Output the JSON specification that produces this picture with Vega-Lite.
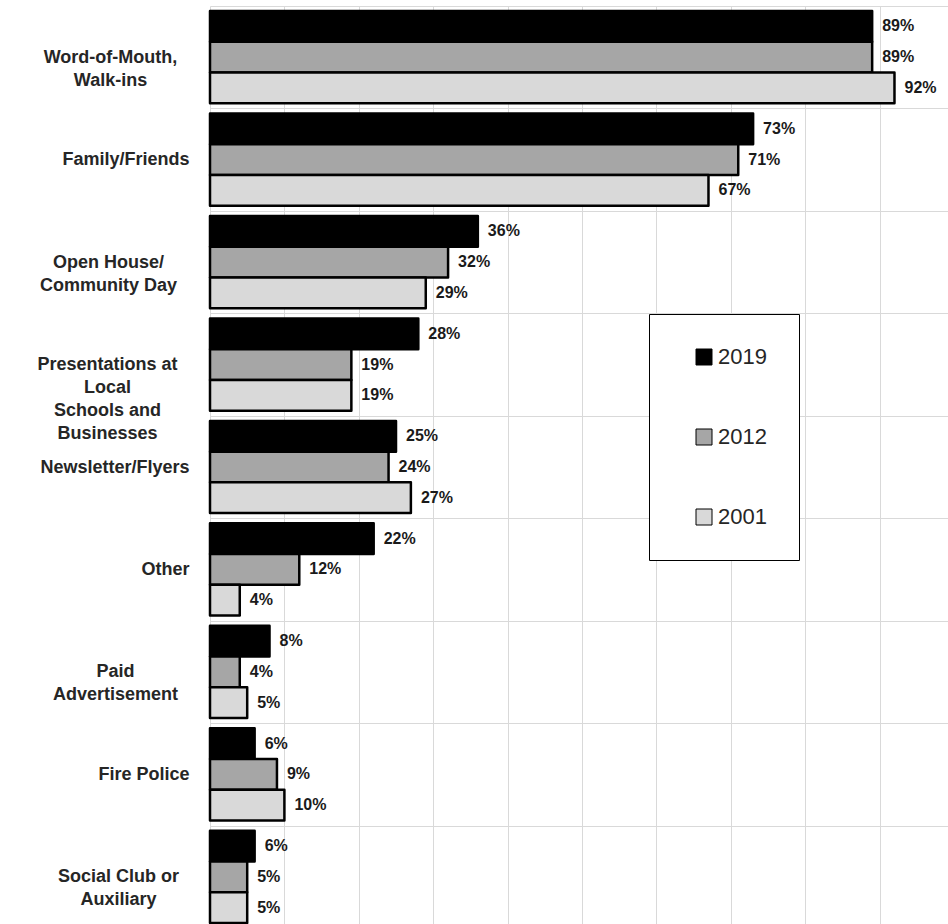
{
  "$schema": "https://vega.github.io/schema/vega-lite/v6.json",
  "width": 744,
  "height": 922,
  "autosize": {"type": "none"},
  "padding": {"left": 210, "top": 6, "right": 0, "bottom": 0},
  "background": "white",
  "data": {
    "values": [
      {"source": "Word-of-Mouth,\nWalk-ins", "year": "2019", "share": 0.89},
      {"source": "Word-of-Mouth,\nWalk-ins", "year": "2012", "share": 0.89},
      {"source": "Word-of-Mouth,\nWalk-ins", "year": "2001", "share": 0.92},
      {"source": "Family/Friends", "year": "2019", "share": 0.73},
      {"source": "Family/Friends", "year": "2012", "share": 0.71},
      {"source": "Family/Friends", "year": "2001", "share": 0.67},
      {"source": "Open House/\nCommunity Day", "year": "2019", "share": 0.36},
      {"source": "Open House/\nCommunity Day", "year": "2012", "share": 0.32},
      {"source": "Open House/\nCommunity Day", "year": "2001", "share": 0.29},
      {"source": "Presentations at\nLocal\nSchools and\nBusinesses", "year": "2019", "share": 0.28},
      {"source": "Presentations at\nLocal\nSchools and\nBusinesses", "year": "2012", "share": 0.19},
      {"source": "Presentations at\nLocal\nSchools and\nBusinesses", "year": "2001", "share": 0.19},
      {"source": "Newsletter/Flyers", "year": "2019", "share": 0.25},
      {"source": "Newsletter/Flyers", "year": "2012", "share": 0.24},
      {"source": "Newsletter/Flyers", "year": "2001", "share": 0.27},
      {"source": "Other", "year": "2019", "share": 0.22},
      {"source": "Other", "year": "2012", "share": 0.12},
      {"source": "Other", "year": "2001", "share": 0.04},
      {"source": "Paid\nAdvertisement", "year": "2019", "share": 0.08},
      {"source": "Paid\nAdvertisement", "year": "2012", "share": 0.04},
      {"source": "Paid\nAdvertisement", "year": "2001", "share": 0.05},
      {"source": "Fire Police", "year": "2019", "share": 0.06},
      {"source": "Fire Police", "year": "2012", "share": 0.09},
      {"source": "Fire Police", "year": "2001", "share": 0.10},
      {"source": "Social Club or\nAuxiliary", "year": "2019", "share": 0.06},
      {"source": "Social Club or\nAuxiliary", "year": "2012", "share": 0.05},
      {"source": "Social Club or\nAuxiliary", "year": "2001", "share": 0.05}
    ]
  },
  "encoding": {
    "y": {
      "field": "source",
      "type": "nominal",
      "sort": null,
      "scale": {"paddingInner": 0.1, "paddingOuter": 0.05},
      "axis": {
        "title": null,
        "domain": false,
        "ticks": false,
        "grid": true,
        "bandPosition": 0,
        "tickOffset": -5.125,
        "labelOffset": 5.125,
        "gridColor": "#d9d9d9",
        "gridWidth": 1,
        "labelFont": "Liberation Sans",
        "labelFontSize": 18,
        "labelFontWeight": "bold",
        "labelColor": "#262626",
        "labelLineHeight": 23,
        "labelLimit": 400,
        "labelExpr": "split(datum.label, '\\n')",
        "labelAlign": {"condition": {"test": "indexof(datum.value, '\\n') >= 0", "value": "center"}, "value": "right"},
        "labelPadding": {
          "condition": [
            {"test": "indexof(datum.value, 'Word-of-Mouth') >= 0", "value": 100},
            {"test": "indexof(datum.value, 'Open House') >= 0", "value": 102},
            {"test": "indexof(datum.value, 'Presentations') >= 0", "value": 103},
            {"test": "indexof(datum.value, 'Paid') >= 0", "value": 95},
            {"test": "indexof(datum.value, 'Social Club') >= 0", "value": 92}
          ],
          "value": 21
        }
      }
    },
    "yOffset": {"field": "year", "type": "nominal", "sort": ["2019", "2012", "2001"]},
    "x": {
      "field": "share",
      "type": "quantitative",
      "scale": {"domain": [0, 1], "nice": false},
      "axis": {
        "title": null,
        "labels": false,
        "ticks": false,
        "domain": false,
        "grid": true,
        "values": [0, 0.1, 0.2, 0.3, 0.4, 0.5, 0.6, 0.7, 0.8, 0.9, 1],
        "gridColor": "#d9d9d9",
        "gridWidth": 1
      }
    }
  },
  "layer": [
    {
      "mark": {"type": "bar", "stroke": "black", "strokeWidth": 2.5, "strokeJoin": "round"},
      "encoding": {
        "color": {
          "field": "year",
          "type": "nominal",
          "scale": {"domain": ["2019", "2012", "2001"], "range": ["#000000", "#a6a6a6", "#d9d9d9"]},
          "legend": {
            "title": null,
            "orient": "none",
            "legendX": 439,
            "legendY": 308,
            "fillColor": "white",
            "strokeColor": "black",
            "padding": 32,
            "symbolOffset": 12,
            "symbolType": "square",
            "symbolSize": 256,
            "symbolStrokeColor": "black",
            "symbolStrokeWidth": 1,
            "labelFont": "Liberation Sans",
            "labelFontSize": 22,
            "labelColor": "#262626",
            "labelOffset": 3,
            "rowPadding": 58
          }
        }
      }
    },
    {
      "mark": {
        "type": "text",
        "align": "left",
        "baseline": "middle",
        "dx": 10,
        "font": "Liberation Sans",
        "fontSize": 16,
        "fontWeight": "bold",
        "color": "#1a1a1a"
      },
      "encoding": {
        "text": {"field": "share", "type": "quantitative", "format": ".0%"}
      }
    }
  ],
  "config": {
    "view": {"stroke": null}
  }
}
